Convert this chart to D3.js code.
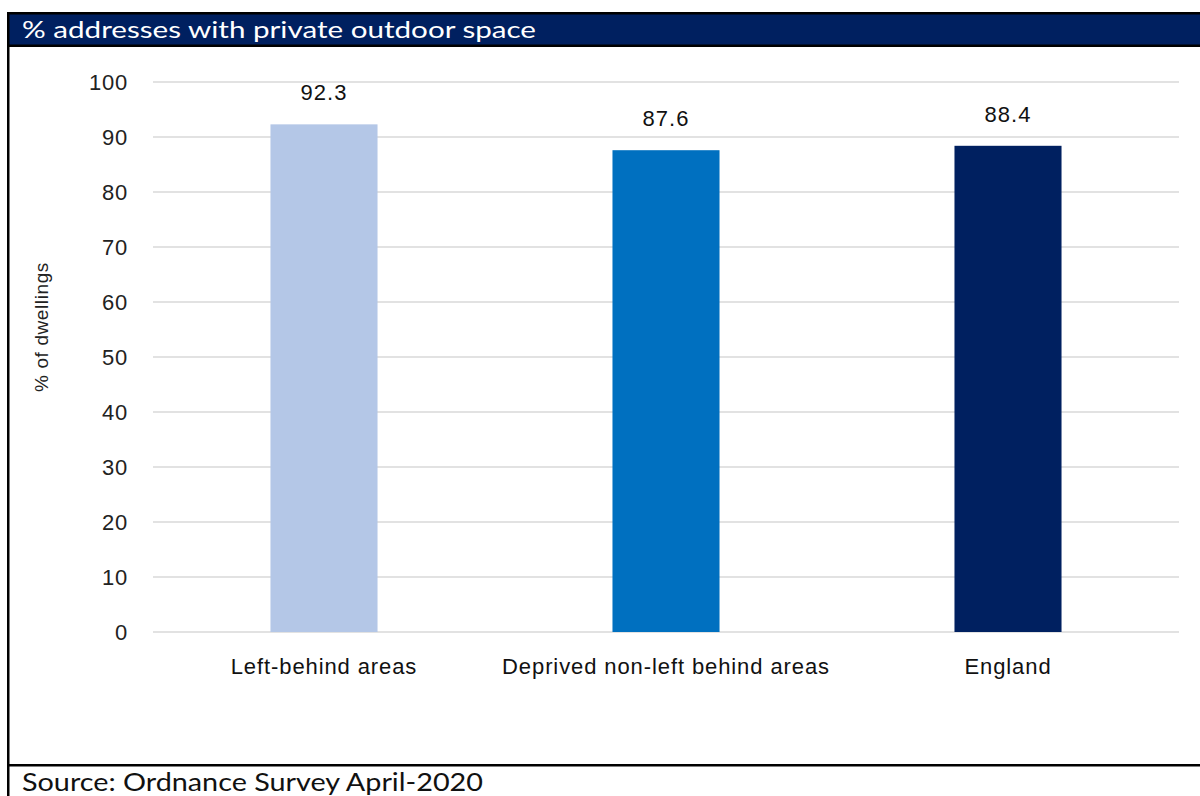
<!DOCTYPE html>
<html>
<head>
<meta charset="utf-8">
<script src="https://cdn.jsdelivr.net/npm/d3@7/dist/d3.min.js"></script>
<style>
  html, body { margin: 0; padding: 0; background: #fff; }
  svg { display: block; }
</style>
</head>
<body>
<script>
// Chart data
const categories = ["Left-behind areas", "Deprived non-left behind areas", "England"];
const values = [92.3, 87.6, 88.4];
const barColors = ["#b4c7e7", "#0070c0", "#002060"];
const yTicks = [0, 10, 20, 30, 40, 50, 60, 70, 80, 90, 100];
const titleText = "% addresses with private outdoor space";
const sourceText = "Source: Ordnance Survey April-2020";
const yAxisTitle = "% of dwellings";

const W = 1200, H = 796;
const svg = d3.select("body").append("svg").attr("width", W).attr("height", H);

// Frame: title banner, left rule and footer rule
svg.append("rect").attr("x", 7).attr("y", 12).attr("width", W - 7).attr("height", 35).attr("fill", "#000");
svg.append("rect").attr("x", 9).attr("y", 14.5).attr("width", W - 9).attr("height", 30).attr("fill", "#002060");
svg.append("rect").attr("x", 7).attr("y", 12).attr("width", 2.5).attr("height", H - 12).attr("fill", "#000");
svg.append("rect").attr("x", 7).attr("y", 764).attr("width", W - 7).attr("height", 2.5).attr("fill", "#000");

const bannerFont = "'Lato', 'Open Sans', 'DejaVu Sans', sans-serif";
svg.append("text")
  .attr("x", 22).attr("y", 38)
  .attr("font-family", bannerFont).attr("font-size", 23)
  .attr("fill", "#fff")
  .attr("textLength", 514).attr("lengthAdjust", "spacingAndGlyphs")
  .text(titleText);

svg.append("text")
  .attr("x", 22).attr("y", 791)
  .attr("font-family", bannerFont).attr("font-size", 25)
  .attr("fill", "#111")
  .attr("textLength", 461).attr("lengthAdjust", "spacingAndGlyphs")
  .text(sourceText);

// Plot area
const plotLeft = 153, plotRight = 1179, plotTop = 82, plotBottom = 632;
const x = d3.scaleBand().domain(categories).range([plotLeft, plotRight])
  .paddingInner(0.687).paddingOuter(0.3435);
const y = d3.scaleLinear().domain([0, 100]).range([plotBottom, plotTop]);

const font = "'Liberation Sans', Arial, sans-serif";

// Gridlines
svg.append("g").selectAll("line").data(yTicks).join("line")
  .attr("x1", plotLeft).attr("x2", plotRight)
  .attr("y1", d => y(d)).attr("y2", d => y(d))
  .attr("stroke", "#d9d9d9").attr("stroke-width", 1.5);

// Y axis labels
const yAxis = svg.append("g")
  .attr("transform", `translate(${plotLeft},0)`)
  .call(d3.axisLeft(y).tickValues(yTicks).tickSize(0).tickPadding(25).tickFormat(d3.format("d")));
yAxis.select(".domain").remove();
yAxis.selectAll("text")
  .attr("font-family", font).attr("font-size", 22).attr("letter-spacing", 0.8).attr("fill", "#222");

// Bars
svg.append("g").selectAll("rect").data(values).join("rect")
  .attr("x", (d, i) => x(categories[i]))
  .attr("width", x.bandwidth())
  .attr("y", d => y(d))
  .attr("height", d => y(0) - y(d))
  .attr("fill", (d, i) => barColors[i]);

// Value labels
svg.append("g").selectAll("text").data(values).join("text")
  .attr("x", (d, i) => x(categories[i]) + x.bandwidth() / 2)
  .attr("y", d => y(d) - 24)
  .attr("text-anchor", "middle")
  .attr("font-family", font).attr("font-size", 22).attr("letter-spacing", 1).attr("fill", "#111")
  .text(d => d3.format(".1f")(d));

// Category labels
const xAxis = svg.append("g")
  .attr("transform", `translate(0,${plotBottom})`)
  .call(d3.axisBottom(x).tickSize(0).tickPadding(26));
xAxis.select(".domain").remove();
xAxis.selectAll("text")
  .attr("font-family", font).attr("font-size", 22).attr("letter-spacing", 0.9).attr("fill", "#111");

// Y axis title
svg.append("text")
  .attr("transform", "translate(48,327) rotate(-90)")
  .attr("text-anchor", "middle")
  .attr("font-family", font).attr("font-size", 19).attr("letter-spacing", 0.6).attr("fill", "#222")
  .text(yAxisTitle);
</script>
</body>
</html>
